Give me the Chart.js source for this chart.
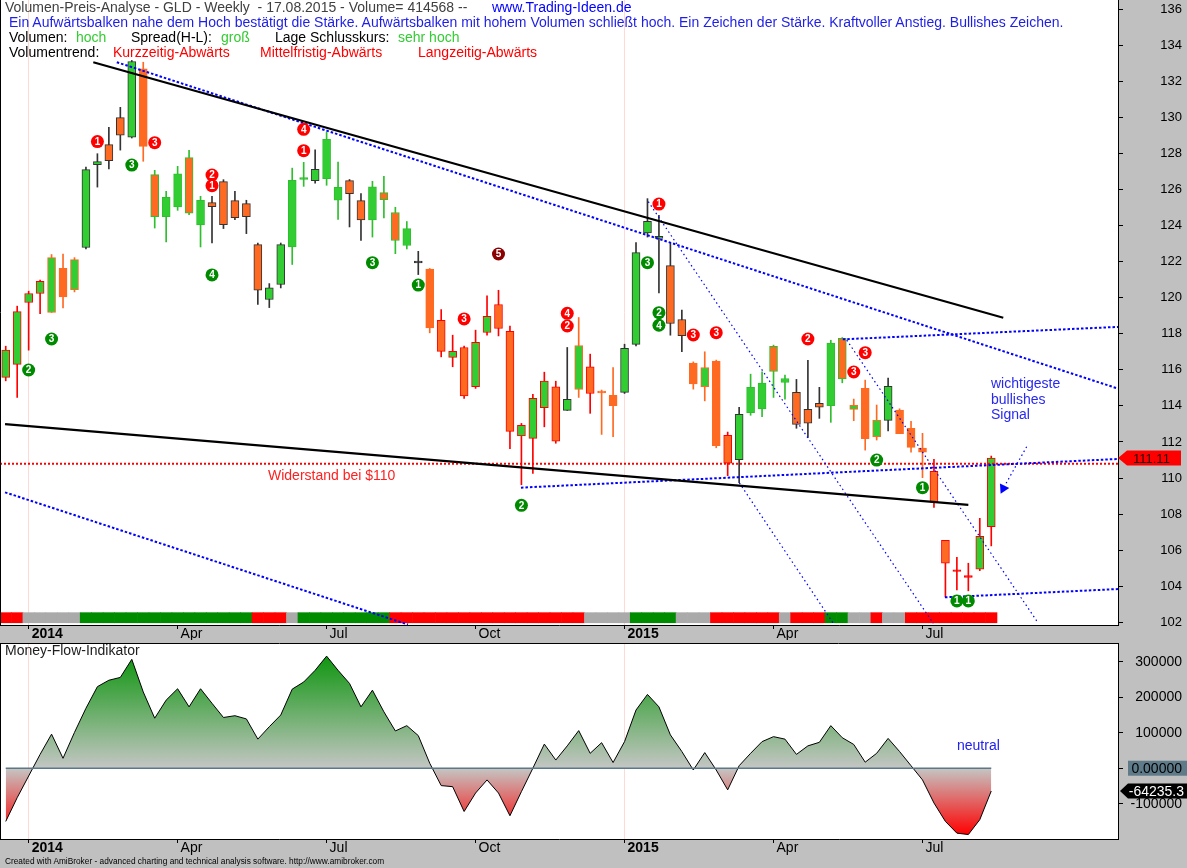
<!DOCTYPE html>
<html><head><meta charset="utf-8">
<script src="https://cdn.jsdelivr.net/npm/chart.js@4.4.1/dist/chart.umd.min.js"></script>
<style>
html,body{margin:0;padding:0;background:#C0C0C0;width:1187px;height:868px;overflow:hidden;font-family:"Liberation Sans",Arial,sans-serif;}
canvas{position:absolute;left:0;}
#top{top:0;width:1187px;height:640px;}
#bot{top:640px;width:1187px;height:228px;}
.t{position:absolute;white-space:pre;font-size:14px;line-height:15px;}
</style></head><body>
<canvas id="top" width="1187" height="640"></canvas>
<canvas id="bot" width="1187" height="228"></canvas>

<div class="t" style="left:5px;top:0;color:#404040">Volumen-Preis-Analyse - GLD - Weekly  - 17.08.2015 - Volume= 414568 --</div>
<div class="t" style="left:492px;top:0;color:#0000FF">www.Trading-Ideen.de</div>
<div class="t" style="left:9px;top:15px;color:#1E1EE6">Ein Aufwärtsbalken nahe dem Hoch bestätigt die Stärke. Aufwärtsbalken mit hohem Volumen schließt hoch. Ein Zeichen der Stärke. Kraftvoller Anstieg. Bullishes Zeichen.</div>
<div class="t" style="left:9px;top:30px;color:#000">Volumen:</div>
<div class="t" style="left:76px;top:30px;color:#33CC33">hoch</div>
<div class="t" style="left:131px;top:30px;color:#000">Spread(H-L):</div>
<div class="t" style="left:221px;top:30px;color:#33CC33">groß</div>
<div class="t" style="left:275px;top:30px;color:#000">Lage Schlusskurs:</div>
<div class="t" style="left:398px;top:30px;color:#33CC33">sehr hoch</div>
<div class="t" style="left:9px;top:45px;color:#000">Volumentrend:</div>
<div class="t" style="left:113px;top:45px;color:#FF0000">Kurzzeitig-Abwärts</div>
<div class="t" style="left:260px;top:45px;color:#FF0000">Mittelfristig-Abwärts</div>
<div class="t" style="left:418px;top:45px;color:#FF0000">Langzeitig-Abwärts</div>
<div class="t" style="left:268px;top:467px;color:#FF2020;font-size:14px;line-height:16px">Widerstand bei $110</div>
<div class="t" style="left:991px;top:376px;color:#2828F0;font-size:14px;line-height:15.5px">wichtigeste
bullishes
Signal</div>
<div class="t" style="left:5px;top:643px;color:#202020;font-size:14px">Money-Flow-Indikator</div>
<div class="t" style="left:957px;top:737px;color:#2020F0;font-size:14px;line-height:16px">neutral</div>
<div class="t" style="left:5px;top:856px;color:#000;font-size:8.3px;line-height:11px">Created with AmiBroker - advanced charting and technical analysis software. http://www.amibroker.com</div>

<script>
// ---------- data ----------
const tickIdx  = [2, 15, 28, 41, 54, 67, 80];
const tickText = ['2014', 'Apr', 'Jul', 'Oct', '2015', 'Apr', 'Jul'];
const priceTicks = [102,104,106,108,110,112,114,116,118,120,122,124,126,128,130,132,134,136];
const mfiTicks = [-100000, 0, 100000, 200000, 300000];

const open  = [115.58,116.30,119.73,120.23,119.18,121.63,120.45,122.78,127.37,128.48,129.98,128.89,132.69,126.82,124.49,125.03,127.76,124.03,125.27,126.43,125.38,125.21,122.94,119.90,120.73,122.81,126.60,126.49,126.60,125.40,126.49,125.38,124.31,125.82,124.72,122.89,121.98,121.58,118.74,116.69,117.24,115.06,118.07,119.62,118.13,112.33,112.20,113.90,115.06,113.75,114.91,116.17,114.82,114.58,114.75,117.41,123.59,123.28,121.78,118.79,116.37,115.06,116.48,112.37,111.02,113.62,113.84,117.30,115.30,114.75,113.81,114.14,114.01,117.74,113.81,114.97,112.29,113.20,113.77,112.76,111.66,110.37,106.55,104.87,104.54,104.95,107.31];
const high  = [117.31,119.53,120.36,120.97,122.39,122.41,122.22,127.24,127.98,129.44,130.55,133.15,133.05,127.06,125.89,127.28,128.17,125.62,125.62,126.54,125.89,125.40,123.03,120.78,123.03,127.18,127.50,128.20,129.18,127.52,126.55,125.77,126.45,126.73,125.01,124.22,122.57,121.62,119.34,117.92,117.31,118.20,120.10,120.41,118.42,113.03,114.64,115.87,115.37,117.24,118.90,116.87,114.88,116.13,117.42,123.05,125.49,124.57,123.03,119.31,116.44,117.00,116.54,112.55,113.92,115.76,115.89,117.37,115.71,115.47,116.52,115.03,117.64,117.79,114.38,115.43,114.05,115.54,113.84,113.14,112.48,111.04,106.55,105.61,105.28,107.77,111.22];
const low   = [115.39,114.47,117.09,119.12,119.18,119.43,120.32,122.70,126.13,127.13,128.18,128.85,127.56,123.86,123.09,124.84,124.60,122.81,123.03,123.83,124.33,123.55,119.62,119.45,120.54,121.84,126.17,126.35,126.23,124.34,123.92,123.18,123.36,124.42,122.44,122.70,121.28,118.05,116.72,116.17,114.42,114.97,117.92,117.88,111.63,109.63,110.26,112.84,111.93,113.75,114.47,113.59,112.42,112.29,114.69,117.33,123.36,120.26,117.92,117.00,114.93,114.28,111.68,110.13,109.74,113.48,113.40,114.47,114.38,112.76,112.26,113.31,113.09,115.28,113.18,111.55,112.11,112.62,112.46,111.43,110.02,108.38,103.40,103.80,103.75,104.87,106.24];
const close = [117.09,119.23,120.23,120.91,122.22,120.04,122.11,127.10,127.54,127.59,129.01,133.09,128.39,124.49,125.56,126.87,124.69,125.40,125.05,124.05,124.44,124.49,120.41,120.54,122.94,126.50,126.60,127.11,128.77,126.12,125.77,124.31,126.15,125.43,123.17,123.83,121.98,118.33,117.02,117.02,114.56,117.52,118.96,118.29,112.59,112.92,114.42,115.37,112.04,114.36,117.35,114.69,114.73,114.01,117.19,122.50,124.23,123.40,118.57,117.90,115.22,116.13,111.79,110.82,113.53,115.03,115.26,115.91,115.52,112.98,113.05,113.93,117.48,115.50,114.03,112.18,113.21,115.08,112.46,111.70,111.43,108.66,105.28,104.87,104.54,106.77,111.11];
// outline / wick class of each weekly bar (r=red, o=orange, d=dark, g=green)
const edge = ['r','r','r','r','o','o','o','d','d','d','d','d','o','g','g','g','g','g','d','d','d','d','d','d','d','g','g','d','g','g','d','d','g','g','g','g','d','o','r','r','r','r','r','r','r','r','r','r','r','d','o','r','o','o','d','d','d','d','d','d','o','o','o','r','d','g','g','g','g','d','d','d','g','g','o','o','o','d','o','o','o','r','r','r','r','r','r'];
// volume trend strip (r=down, s=neutral, g=up)
const volTrend = ['r','r','s','s','s','s','s','g','g','g','g','g','g','g','g','g','g','g','g','g','g','g','r','r','r','s','g','g','g','g','g','g','g','g','r','r','r','r','r','r','r','r','r','r','r','r','r','r','r','r','r','s','s','s','s','g','g','g','g','s','s','s','r','r','r','r','r','r','s','r','r','r','g','g','s','s','r','s','s','r','r','r','r','r','r','r','r'];
const mfi = [-150000,-83000,-22000,39000,96000,28000,101000,169000,230000,248000,256000,307000,215000,141000,192000,224000,173000,224000,183000,143000,148000,139000,82000,117000,150000,223000,243000,276000,316000,276000,239000,173000,220000,159000,105000,120000,92000,14000,-49000,-52000,-122000,-70000,-33000,-70000,-134000,-66000,0,68000,23000,63000,106000,42000,72000,16000,75000,164000,208000,173000,94000,47000,-5000,44000,-5000,-61000,7000,42000,75000,89000,82000,39000,63000,73000,120000,86000,67000,17000,42000,84000,47000,7000,-33000,-98000,-150000,-183000,-187000,-145000,-64235.3];

const resistance = 110.8;
const upperBlack = [[7.64,133.05],[87.05,118.89]];
const lowerBlack = [[-0.06,112.99],[84.0,108.51]];
const blueUpper  = [[9.69,133.05],[97.06,114.96]];
const blueLeft   = [[-0.06,109.21],[35.10,101.88]];
const blueSupport= [[44.96,109.47],[97.06,111.06]];
const blueTop2   = [[73.04,117.69],[97.06,118.38]];
const blueBottom = [[81.96,103.39],[97.06,103.85]];
const thinA = [[56.07,125.32],[80.94,101.95]];
const thinB = [[64.02,109.73],[72.22,101.95]];
const thinC = [[73.39,117.65],[90.11,101.95]];
const arrowLine = [[89.09,111.74],[87.05,109.43]];
// signal markers: [week index, price, digit, colour]
const signals = [
 [8,128.65,'1','r'],[13,128.59,'3','r'],[11,127.35,'3','g'],[18,126.80,'2','r'],[18,126.21,'1','r'],[18,121.26,'4','g'],
 [26,129.33,'4','r'],[26,128.15,'1','r'],[4,117.71,'3','g'],[2,115.99,'2','g'],[32,121.94,'3','g'],[36,120.70,'1','g'],
 [43,122.42,'5','k'],[40,118.82,'3','r'],[49,119.13,'4','r'],[49,118.43,'2','r'],[45,108.49,'2','g'],[57,125.19,'1','r'],
 [56,121.94,'3','g'],[57,119.17,'2','g'],[57,118.47,'4','g'],[60,117.93,'3','r'],[62,118.06,'3','r'],[70,117.71,'2','r'],
 [75,116.95,'3','r'],[74,115.88,'3','r'],[76,111.00,'2','g'],[80,109.47,'1','g'],[83,103.19,'1','g'],[84,103.19,'1','g']
];

// ---------- styling ----------
const FONT = '"Liberation Sans", Arial, sans-serif';
Chart.defaults.font.family = FONT;
Chart.defaults.animation = false;
const GREEN = '#32CD32', ORANGE = '#FF6A22';
const EDGE = {r:'#FF0000', o:'#FF6A22', d:'#333333', g:'#2EBE2E'};
const STRIP = {r:'#FF0000', s:'#AAAAAA', g:'#008C00'};
const SIG = {r:'#FF0000', g:'#008A00', k:'#8B0000'};
const XMIN = -0.5, XMAX = 97.06;
const pts = a => a.map(p => ({x:p[0], y:p[1]}));

const whiteArea = {id:'whiteArea', beforeDraw(c){const a=c.chartArea, x=c.ctx; x.save(); x.fillStyle='#fff'; x.fillRect(a.left,a.top,a.right-a.left,a.bottom-a.top); x.restore();}};
const frame = {id:'frame', afterDraw(c, args, o){const a=c.chartArea, x=c.ctx; x.save(); x.strokeStyle='#000'; x.lineWidth=1; x.beginPath(); x.moveTo(a.left+0.5,a.top); x.lineTo(a.left+0.5,a.bottom); if(o.top){x.moveTo(a.left,a.top+0.5); x.lineTo(a.right,a.top+0.5);} x.stroke(); x.restore();}};

function xScale(h){
  return {
    type:'linear', min:XMIN, max:XMAX, position:'bottom', offset:false,
    afterBuildTicks: s => { s.ticks = tickIdx.map(v => ({value:v})); },
    afterFit: s => { s.height = h; s.paddingLeft = 0; s.paddingRight = 0; },
    ticks:{
      autoSkip:false, maxRotation:0, align:'start', labelOffset:3, padding:-3, color:'#000',
      callback: v => tickText[tickIdx.indexOf(v)],
      font: c => { const lab = c.tick ? (tickText[tickIdx.indexOf(c.tick.value)]||'') : ''; return {size:14, family:FONT, weight: /^\d{4}$/.test(lab) ? 'bold':'normal'}; }
    },
    grid:{ offset:false, drawOnChartArea:true, tickLength:4, tickColor:'#000', lineWidth:1,
      color: c => { const lab = c.tick ? (tickText[tickIdx.indexOf(c.tick.value)]||'') : ''; return /^\d{4}$/.test(lab) ? '#FFD8D8' : 'rgba(0,0,0,0)'; } },
    border:{display:true, color:'#000', width:1}
  };
}
function yScale(min, max, list, size, cb){
  return { type:'linear', position:'right', min:min, max:max,
    afterBuildTicks: s => { s.ticks = list.map(v => ({value:v})); },
    afterFit: s => { s.width = 64; s.paddingTop = 0; s.paddingBottom = 0; },
    ticks:{autoSkip:false, color:'#000', font:{size:size}, crossAlign:'far', padding:0, callback:cb},
    grid:{drawOnChartArea:false, tickLength:5, tickColor:'#000'},
    border:{display:true, color:'#000', width:1} };
}

// ---------- top chart ----------
const n = close.length;
const wickData = close.map((c,i) => ({x:i, y:[low[i], high[i]]}));
const bodyData = close.map((c,i) => { const o=open[i]; if (Math.abs(c-o) < 0.1){ const m=(c+o)/2; return {x:i, y:[m-0.05, m+0.05]}; } return {x:i, y:[o, c]}; });
const bodyFill = close.map((c,i) => Math.abs(c-open[i]) < 0.1 ? EDGE[edge[i]] : (c >= open[i] ? GREEN : ORANGE));
const stripData = volTrend.map((v,i) => ({x:i, y:[101.98, 102.54]}));

function lineDs(arr, color, width, dash, order){
  return {type:'line', data:pts(arr), borderColor:color, borderWidth:width, borderDash:dash, pointRadius:0, fill:false, order:order, tension:0};
}

const lastTag = {id:'lastTag', afterDraw(c){
  const x=c.ctx, y=c.scales.y.getPixelForValue(close[n-1]), L=c.chartArea.right;
  x.save(); x.fillStyle='#FF0000'; x.beginPath(); x.moveTo(L,y); x.lineTo(L+9,y-7.5); x.lineTo(L+63,y-7.5); x.lineTo(L+63,y+7.5); x.lineTo(L+9,y+7.5); x.closePath(); x.fill();
  x.fillStyle='#200000'; x.font='13px '+FONT; x.textBaseline='middle'; x.textAlign='left'; x.fillText(close[n-1].toFixed(2), L+15, y+1); x.restore();
}};
const sigDigits = {id:'sigDigits', afterDatasetsDraw(c){
  const idx = c.data.datasets.findIndex(d => d.label==='signals'); const meta=c.getDatasetMeta(idx); const x=c.ctx;
  x.save(); x.fillStyle='#fff'; x.font='bold 10px '+FONT; x.textAlign='center'; x.textBaseline='middle';
  meta.data.forEach((p,k) => x.fillText(signals[k][2], p.x, p.y+0.5)); x.restore();
}};

new Chart(document.getElementById('top'), {
  type:'bar',
  data:{ datasets:[
    {label:'strip', data:stripData, backgroundColor:volTrend.map(v=>STRIP[v]), barPercentage:1, categoryPercentage:1, grouped:false, order:20},
    {label:'wick', data:wickData, backgroundColor:edge.map(e=>EDGE[e]), barThickness:1, grouped:false, order:19},
    {label:'body', data:bodyData, backgroundColor:bodyFill, borderColor:edge.map(e=>EDGE[e]), borderWidth:1, borderSkipped:false, barThickness:8, grouped:false, order:18},
    lineDs([[XMIN,resistance],[XMAX,resistance]], '#FF0000', 2, [2,2], 6),
    lineDs(blueUpper, '#0000FF', 2, [2.5,2], 5),
    lineDs(blueLeft, '#0000FF', 2, [2.5,2], 5),
    lineDs(blueSupport, '#0000FF', 2, [2.5,2], 5),
    lineDs(blueTop2, '#0000FF', 2, [2.5,2], 5),
    lineDs(blueBottom, '#0000FF', 2, [2.5,2], 5),
    lineDs(thinA, '#0000FF', 1.2, [1.5,3], 5),
    lineDs(thinB, '#0000FF', 1.2, [1.5,3], 5),
    lineDs(thinC, '#0000FF', 1.2, [1.5,3], 5),
    lineDs(upperBlack, '#000000', 2.2, [], 4),
    lineDs(lowerBlack, '#000000', 2.2, [], 4),
    {type:'line', data:pts(arrowLine), borderColor:'#0000FF', borderWidth:1.2, borderDash:[1.5,3], pointRadius:[0,6], pointStyle:'triangle', rotation:206, pointBackgroundColor:'#0000FF', pointBorderWidth:0, fill:false, order:3},
    {label:'signals', type:'line', data:signals.map(s=>({x:s[0], y:s[1]})), showLine:false, pointRadius:6.5, pointStyle:'circle', pointBackgroundColor:signals.map(s=>SIG[s[3]]), pointBorderWidth:0, order:1}
  ]},
  options:{
    responsive:false, animation:false, events:[],
    layout:{autoPadding:false, padding:{left:0, right:5, top:0, bottom:0}},
    plugins:{legend:{display:false}, tooltip:{enabled:false}, frame:{top:false}},
    scales:{
      x: xScale(15),
      y: yScale(101.856, 136.5, priceTicks, 13, v => String(v))
    }
  },
  plugins:[whiteArea, frame, sigDigits, lastTag]
});

// ---------- bottom chart ----------
const mfiPts = mfi.map((v,i) => ({x:i, y:v}));
const mfiMax = Math.max(...mfi), mfiMin = Math.min(...mfi);
const bottomTags = {id:'bottomTags', afterDraw(c){
  const x=c.ctx, ys=c.scales.y, L=c.chartArea.right;
  const y0 = ys.getPixelForValue(0);
  x.save();
  x.fillStyle='#5F7B8A'; x.fillRect(L+10, y0-7.5, 59, 15);
  x.fillStyle='#000'; x.font='14px '+FONT; x.textBaseline='middle'; x.textAlign='right'; x.fillText('0.00000', 1182, y0+1);
  const last = mfi[mfi.length-1], y1 = ys.getPixelForValue(last);
  x.fillStyle='#000'; x.beginPath(); x.moveTo(L+2,y1); x.lineTo(L+10,y1-7.5); x.lineTo(1187,y1-7.5); x.lineTo(1187,y1+7.5); x.lineTo(L+10,y1+7.5); x.closePath(); x.fill();
  x.fillStyle='#fff'; x.fillText(last.toFixed(1), 1184, y1+1);
  x.restore();
}};

new Chart(document.getElementById('bot'), {
  type:'line',
  data:{ datasets:[
    {label:'zero', data:[{x:0,y:0},{x:n-1,y:0}], borderColor:'#5A7888', borderWidth:1.5, pointRadius:0, fill:false, order:1},
    {label:'mfi', data:mfiPts, borderColor:'#000', borderWidth:1, pointRadius:0, tension:0, order:2,
      fill:'origin',
      backgroundColor: ctx => {
        const ch = ctx.chart, a = ch.chartArea; if(!a) return 'rgba(0,0,0,0)';
        const ys = ch.scales.y; const t0 = ys.getPixelForValue(mfiMax), t1 = ys.getPixelForValue(mfiMin), tz = ys.getPixelForValue(0);
        const g = ch.ctx.createLinearGradient(0, t0, 0, t1);
        g.addColorStop(0, '#109610'); g.addColorStop((tz-t0)/(t1-t0), '#C4C6C4'); g.addColorStop(1, '#FF0000');
        return g;
      }}
  ]},
  options:{
    responsive:false, animation:false, events:[],
    layout:{autoPadding:false, padding:{left:0, right:5, top:3, bottom:13}},
    plugins:{legend:{display:false}, tooltip:{enabled:false}, frame:{top:true}},
    scales:{
      x: xScale(16),
      y: yScale(-199550, 353000, mfiTicks, 14, v => v === 0 ? '' : String(v))
    }
  },
  plugins:[whiteArea, frame, bottomTags]
});
</script>
</body></html>
